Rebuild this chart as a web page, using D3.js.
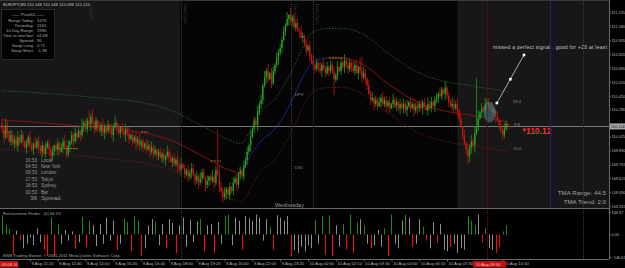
<!DOCTYPE html>
<html>
<head>
<meta charset="utf-8">
<script src="https://cdn.jsdelivr.net/npm/d3@7"></script>
<style>
html, body { margin: 0; padding: 0; background: #000; }
svg { display: block; }
text { font-family: "Liberation Sans", Arial, sans-serif; }
</style>
</head>
<body>
<script>
'use strict';

// ---- data (prices in pips above 110.00) ----
var firstOpen = 16;
var closes = [
  10, 2, 14, 6, -2, 4, -4, 0, -6, 2,
  -3, 4, -2, -8, -4, 2, -6, -10, -4, -8,
  -2, -8, -12, -6, -14, -8, -4, -10, -16, -12,
  -6, -10, -4, -12, -8, -2, -8, -14, -6, -2,
  4, -2, 6, 2, 8, 4, 12, 16, 10, 18,
  14, 22, 16, 10, 18, 12, 8, 14, 6, 12,
  8, 14, 10, 4, 12, 16, 10, 6, 12, 8,
  4, 10, 6, 0, 4, -2, 2, -4, 0, -6,
  -2, -8, -4, -10, -6, -12, -8, -14, -10, -16,
  -12, -18, -14, -20, -16, -12, -18, -22, -18, -24,
  -20, -26, -30, -24, -28, -34, -30, -36, -32, -28,
  -34, -40, -36, -42, -38, -32, -38, -44, -40, -36,
  -40, -36, -42, -30, -34, -46, -50, -56, -52, -48,
  -54, -46, -50, -42, -38, -44, -34, -30, -36, -26,
  -20, -12, -6, 2, 10, 18, 14, 26, 34, 38,
  52, 60, 66, 58, 64, 54, 66, 72, 78, 84,
  88, 96, 104, 110, 116, 120, 114, 118, 108, 112,
  106, 104, 98, 100, 92, 86, 90, 80, 76, 72,
  68, 74, 70, 66, 72, 68, 64, 70, 66, 72,
  66, 58, 62, 70, 66, 74, 70, 76, 72, 68,
  74, 70, 66, 72, 64, 70, 66, 60, 64, 58,
  52, 44, 38, 40, 34, 38, 32, 36, 40, 34,
  38, 32, 36, 30, 34, 38, 32, 36, 30, 34,
  30, 34, 28, 32, 36, 30, 34, 28, 32, 30,
  34, 30, 36, 32, 28, 34, 30, 36, 32, 38,
  40, 44, 42, 48, 44, 50, 42, 36, 32, 34,
  30, 34, 28, 20, 12, 4, -4, -10, -16, -8,
  -2, -6, 6, 12, 20, 26, 30, 28, 34, 36,
  32, 30, 26, 28, 22, 18, 14, 8, 4, 10,
  15, 12.4
];
var wickUp = ('4263152436' + '2531426315' + '3624153426' + '1352436251' + '4263518243' +
  '6372415263' + '2415362514' + '3526142536' + '2314526341' + '3425163524' +
  '2536142635' + '4152634251' + '3624195362' + '2415362415' + '3526143625' +
  '2637154263' + '4352617243' + '5263142536' + '2415263514' + '3526142635' +
  '4263518264' + '2536142536' + '3425163425' + '2536142635' + '3524163524' +
  '4263152436' + '5362415263' + '6372815263' + '4263152436' + '30').split('').map(Number);
var wickDn = ('3625142536' + '4152634251' + '2536241635' + '4263152436' + '3524163524' +
  '2615342536' + '4253614253' + '2635142635' + '3524163524' + '4152634152' +
  '3625142536' + '2536241635' + '4263152436' + '3524163524' + '2536142635' +
  '4263152436' + '3524163524' + '2615342536' + '4253614253' + '2635142635' +
  '3524163524' + '4152634152' + '3625142536' + '2536241635' + '4263152436' +
  '3524163524' + '5263142536' + '6372415263' + '4253614253' + '23').split('').map(Number);
var highSpikes = [[50, 28], [124, 9], [164, 123], [207, 80], [255, 56], [273, 59]];
var lowSpikes = [[127, -61], [191, 43], [268, -24]];

// TMA centre line (bar, pips) and its bands
var tmaFall1 = [[0, 18.7], [56, 11], [82, 6], [94, 1], [114, -15], [131, -30], [137, -33]];
var tmaRise = [[137, -33], [148, -3.6], [158, 12], [167, 38], [173, 60], [179, 74.7], [187, 78.5]];
var tmaFall2 = [[187, 78.5], [196, 78.5], [206, 73.7], [223, 52.5], [240, 35], [252, 28.3], [269, 23.5], [291, 16.8]];
var bandUpper = [[0, 47], [56, 40], [82, 35], [94, 30], [114, 14], [131, -1], [137, -4], [148, 25], [158, 41],
  [167, 67], [173, 89], [179, 104], [187, 107], [196, 107], [206, 103], [223, 82], [240, 64], [252, 57], [269, 52], [291, 46]];
var bandLower = [[0, -10], [56, -18], [82, -23], [94, -28], [114, -44], [131, -57], [137, -60], [148, -33], [158, -17],
  [167, 9], [173, 31], [179, 46], [187, 50], [196, 50], [206, 45], [223, 24], [240, 6], [252, -1], [269, -6], [291, -12]];
var pivotMarks = [[0, 6, 7], [32, 44, -9], [80, 84, 7], [120, 126, -21], [188, 196, 78.5]];

// Retracement Finder histogram, one value every second bar
var histVals = [125, 60, 35, -130, 25, -40, -90, -60, -20, -70, 40, -50, -100, -140, 110, -145, 70, -60, 30, -40,
  20, -95, -50, 115, -80, 90, 60, -75, 70, -60, 110, -40, 90, -100, -60, 105, 80, -110, 120, 90,
  -140, -90, 60, 100, 85, -70, 70, -90, 100, 75, -120, 60, 110, -80, 95, -50, 85, 100, -110, 60,
  70, -120, 80, -60, 120, 130, -70, 110, 90, -100, 120, 105, 90, 130, 110, -40, 100, 50, -100, 125,
  110, 90, 120, -145, -100, -120, -80, -110, -70, -90, 95, -60, 120, -130, 125, -140, 60, -80, 70, -100,
  130, -120, 80, 100, 60, -60, -90, -70, 30, -80, 40, -140, 130, -60, -90, 90, 130, 110, -80, -60,
  100, 50, -40, -90, 80, -50, 70, -100, -110, -80, -60, -120, -90, -100, 120, 90, 60, 130, -50, 45,
  -90, -100, -120, -80, 20, 60];
var histColors = ('gggrnrnnnn' + 'nnrrgrgnnn' + 'nrngrgnnnn' + 'nnnrnggrgg' + 'rnnngnnrnn' +
  'rnnnnnngrn' + 'nrnnggnnnr' + 'nnnnnnngrn' + 'nnnrnnnnnn' + 'gngrgrnngr' +
  'grgngnrnnn' + 'grgnnngnrn' + 'ngrnnrnnnr' + 'nnnngggnrg' + 'nnrrgg').split('');

// axis labels (110.155 sits under the bid box)
var priceTicks = [111.225, 111.090, 110.955, 110.820, 110.690, 110.555, 110.420, 110.290,
  110.025, 109.890, 109.755, 109.625, 109.490, 109.355];
var histTicks = [146.67, 0, -146.67];
var timeTicks = [[16, '9 Aug 11:20'], [32, '9 Aug 12:40'], [48, '9 Aug 14:00'], [64, '9 Aug 15:20'],
  [80, '9 Aug 16:40'], [96, '9 Aug 18:00'], [112, '9 Aug 19:20'], [128, '9 Aug 20:40'],
  [144, '9 Aug 22:00'], [160, '9 Aug 23:20'], [176, '10 Aug 00:50'], [192, '10 Aug 02:10'],
  [208, '10 Aug 03:30'], [224, '10 Aug 04:50'], [240, '10 Aug 06:10'], [256, '10 Aug 07:30'],
  [288, '10 Aug 10:10']];

var headerText = 'EURJPY,M5  110.148 110.148 110.098 110.124';
var infoTitle = 'Pivot60';
var infoRows = [['Range  Today:', '1476'], ['Yesterday:', '2161'], ['10 Day Range:', '1990'],
  ['Time to next bar:', '01:58'], ['Spread:', '36'], ['Swap  Long:', '0.71'], ['Swap  Short:', '-1.38']];
var sessionRows = [['10:53', 'Local'], ['04:53', 'New York'], ['09:53', 'London'], ['17:53', 'Tokyo'],
  ['18:53', 'Sydney'], ['00:53', 'Bar'], ['36', 'Spread.']];

// ---- layout ----
var W = 625, H = 268;
var axisX = 609, mainBottom = 208, histBottom = 259;
var FS = 4.2;

var xs = d3.scaleLinear().domain([16, 256]).range([30, 447]);
var ys = d3.scaleLinear().domain([109.355, 111.225]).range([206, 12.5]);
var yh = d3.scaleLinear().domain([-146.67, 146.67]).range([257, 212]);
function price(p) { return 110 + p / 100; }

var svg = d3.select('body').append('svg').attr('width', W).attr('height', H);

svg.append('defs').append('clipPath').attr('id', 'clipMain')
  .append('rect').attr('x', 0).attr('y', 0).attr('width', axisX).attr('height', mainBottom);

svg.append('rect').attr('width', W).attr('height', H).attr('fill', '#000');
// session shading
svg.append('rect').attr('x', 0).attr('y', 0).attr('width', axisX).attr('height', mainBottom).attr('fill', '#171717');
svg.append('rect').attr('x', xs(102.5)).attr('y', 0).attr('width', xs(262) - xs(102.5)).attr('height', mainBottom).attr('fill', '#050505');

var main = svg.append('g').attr('clip-path', 'url(#clipMain)');

// vertical marker lines
var vLines = [
  {bar: 103, color: '#3c3c3c', dash: '1,1', bottom: histBottom},
  {bar: 166, color: '#3c3c3c', dash: '1,1', bottom: mainBottom},
  {bar: 179, color: '#3c3c3c', dash: '1,1', bottom: mainBottom},
  {bar: 279, color: '#7a1010', dash: '1,1', bottom: histBottom},
  {bar: 315, color: '#20208c', dash: null, bottom: mainBottom},
  {bar: 334, color: '#3c3c3c', dash: '1,1', bottom: histBottom}
];
svg.selectAll('line.vl').data(vLines).enter().append('line')
  .attr('x1', function (d) { return Math.round(xs(d.bar)) + 0.5; })
  .attr('x2', function (d) { return Math.round(xs(d.bar)) + 0.5; })
  .attr('y1', 0).attr('y2', function (d) { return d.bottom; })
  .attr('stroke', function (d) { return d.color; })
  .attr('stroke-dasharray', function (d) { return d.dash; });

// rotated labels on vertical lines
[[103, 'Daily Open'], [166, 'Day High'], [179, 'Daily Open'], [49, 'Session']].forEach(function (d) {
  svg.append('text').attr('transform', 'translate(' + (xs(d[0]) + 3) + ',4) rotate(90)')
    .attr('font-size', FS).attr('fill', '#3a3a3a').text(d[1]);
});

// price line
main.append('line').attr('x1', 0).attr('x2', axisX).attr('y1', Math.round(ys(price(12.4))) + 0.5)
  .attr('y2', Math.round(ys(price(12.4))) + 0.5).attr('stroke', '#777');

// TMA bands and centre
function lineFor(points) {
  return d3.line().x(function (d) { return xs(d[0]); }).y(function (d) { return ys(price(d[1])); })
    .curve(d3.curveMonotoneX)(points);
}
main.append('path').attr('d', lineFor(bandUpper)).attr('fill', 'none').attr('stroke', '#2f6e2f')
  .attr('stroke-width', 0.8).attr('stroke-dasharray', '1.5,1.5');
main.append('path').attr('d', lineFor(bandLower)).attr('fill', 'none').attr('stroke', '#7a1a1a')
  .attr('stroke-width', 0.8).attr('stroke-dasharray', '1.5,1.5');
main.append('path').attr('d', lineFor(tmaFall1)).attr('fill', 'none').attr('stroke', '#8a1515').attr('stroke-width', 0.9);
main.append('path').attr('d', lineFor(tmaRise)).attr('fill', 'none').attr('stroke', '#1c2a9c').attr('stroke-width', 0.9);
main.append('path').attr('d', lineFor(tmaFall2)).attr('fill', 'none').attr('stroke', '#8a1515').attr('stroke-width', 0.9);

// pivot marks
main.selectAll('line.pv').data(pivotMarks).enter().append('line')
  .attr('x1', function (d) { return xs(d[0]); }).attr('x2', function (d) { return xs(d[1]); })
  .attr('y1', function (d) { return ys(price(d[2])); }).attr('y2', function (d) { return ys(price(d[2])); })
  .attr('stroke', '#c8a020').attr('stroke-width', 0.8).attr('stroke-dasharray', '2,1');

// candles
var hiMap = {}, loMap = {};
highSpikes.forEach(function (d) { hiMap[d[0]] = d[1]; });
lowSpikes.forEach(function (d) { loMap[d[0]] = d[1]; });
var bars = closes.map(function (c, i) {
  var o = i === 0 ? firstOpen : closes[i - 1];
  var hi = hiMap[i] !== undefined ? hiMap[i] : Math.max(o, c) + (wickUp[i] || 0);
  var lo = loMap[i] !== undefined ? loMap[i] : Math.min(o, c) - (wickDn[i] || 0);
  return {i: i, o: o, c: c, h: hi, l: lo};
});
var cg = main.selectAll('g.candle').data(bars).enter().append('g');
cg.append('line')
  .attr('x1', function (d) { return xs(d.i); }).attr('x2', function (d) { return xs(d.i); })
  .attr('y1', function (d) { return ys(price(d.h)); }).attr('y2', function (d) { return ys(price(d.l)); })
  .attr('stroke', function (d) { return d.c >= d.o ? '#1f9a1f' : '#c01414'; })
  .attr('stroke-width', 0.8);
cg.append('rect')
  .attr('x', function (d) { return xs(d.i) - 0.65; }).attr('width', 1.3)
  .attr('y', function (d) { return ys(price(Math.max(d.o, d.c))); })
  .attr('height', function (d) { return Math.max(0.8, Math.abs(ys(price(d.o)) - ys(price(d.c)))); })
  .attr('fill', function (d) { return d.c >= d.o ? '#25a825' : '#cc1616'; });

// ellipse and trend arrow
var ell = {i0: 277, i1: 284, hi: 36, lo: 16};
main.append('ellipse').attr('cx', (xs(ell.i0) + xs(ell.i1)) / 2).attr('cy', (ys(price(ell.hi)) + ys(price(ell.lo))) / 2)
  .attr('rx', (xs(ell.i1) - xs(ell.i0)) / 2).attr('ry', (ys(price(ell.lo)) - ys(price(ell.hi))) / 2)
  .attr('fill', '#3f7f8c').attr('fill-opacity', 0.55);
var arrow = [[284.7, 35], [292.5, 58], [300.3, 81.4]];
main.append('line').attr('x1', xs(arrow[0][0])).attr('y1', ys(price(arrow[0][1])))
  .attr('x2', xs(arrow[2][0])).attr('y2', ys(price(arrow[2][1]))).attr('stroke', '#cfcfcf').attr('stroke-width', 0.8);
main.selectAll('rect.h').data(arrow).enter().append('rect')
  .attr('x', function (d) { return xs(d[0]) - 1.3; }).attr('y', function (d) { return ys(price(d[1])) - 1.3; })
  .attr('width', 2.6).attr('height', 2.6).attr('fill', '#fff');

// small level labels
var levelLabels = [[294, 37, '29.4'], [294.5, 14.8, '9.8'], [294, -8.4, '15.0'], [168.5, 43.8, 'DPV'], [168.5, -26.7, 'DS1']];
main.selectAll('text.lv').data(levelLabels).enter().append('text')
  .attr('x', function (d) { return xs(d[0]); }).attr('y', function (d) { return ys(price(d[1])) + 2; })
  .attr('font-size', FS).attr('fill', '#8a8a8a').text(function (d) { return d[2]; });
main.append('text').attr('x', xs(299.5)).attr('y', ys(price(8)) + 3).attr('font-size', 8.5)
  .attr('font-weight', 'bold').attr('fill', '#ff2a2a').text('*110.12');
main.append('text').attr('x', 493).attr('y', 49).attr('font-size', 4.9).attr('fill', '#c8c8c8')
  .attr('textLength', 114).text('missed a perfect signal . good for +20 at least');
main.append('text').attr('x', 606).attr('y', 195).attr('text-anchor', 'end').attr('font-size', 6.2)
  .attr('fill', '#a0a0a0').text('TMA Range: 44.5');
main.append('text').attr('x', 606).attr('y', 204).attr('text-anchor', 'end').attr('font-size', 6.2)
  .attr('fill', '#a0a0a0').text('TMA Trend: 2.0');
main.append('text').attr('x', xs(157)).attr('y', 207).attr('font-size', 5.5).attr('fill', '#9a9a9a').text('Wednesday');

// header and info box
svg.append('text').attr('x', 3).attr('y', 6).attr('font-size', FS).attr('fill', '#c0c0c0').text(headerText);
svg.append('rect').attr('x', 1.5).attr('y', 9.5).attr('width', 53).attr('height', 50)
  .attr('fill', '#020202').attr('stroke', '#2a2a2a');
svg.append('text').attr('x', 28).attr('y', 16).attr('text-anchor', 'middle').attr('font-size', FS)
  .attr('fill', '#a8a8a8').text('\u2014\u2014  ' + infoTitle + '  \u2014\u2014');
infoRows.forEach(function (r, k) {
  svg.append('text').attr('x', 34).attr('y', 21.5 + k * 5.1).attr('text-anchor', 'end')
    .attr('font-size', FS).attr('fill', '#a8a8a8').text(r[0]);
  svg.append('text').attr('x', 37).attr('y', 21.5 + k * 5.1).attr('font-size', FS).attr('fill', '#a8a8a8').text(r[1]);
});
sessionRows.forEach(function (r, k) {
  var big = k === sessionRows.length - 1;
  svg.append('text').attr('x', 37).attr('y', 161.5 + k * 6.4).attr('text-anchor', 'end')
    .attr('font-size', big ? 6 : 4.6).attr('fill', '#9a9a9a').text(r[0]);
  svg.append('text').attr('x', 41).attr('y', 161.5 + k * 6.4)
    .attr('font-size', big ? 6 : 4.6).attr('fill', '#9a9a9a').text(r[1]);
});

// ---- histogram panel ----
svg.append('line').attr('x1', 0).attr('x2', axisX).attr('y1', mainBottom + 0.5).attr('y2', mainBottom + 0.5).attr('stroke', '#6a6a6a');
var colorOf = {g: '#1c8c1c', r: '#ff0a0a', n: '#8e8e8e'};
svg.selectAll('rect.hb').data(histVals).enter().append('rect')
  .attr('x', function (d, k) { return Math.round(xs(2 * k)); })
  .attr('width', 1)
  .attr('y', function (d) { return Math.min(yh(0), yh(d)); })
  .attr('height', function (d) { return Math.abs(yh(d) - yh(0)); })
  .attr('fill', function (d, k) { return colorOf[histColors[k]]; });
svg.append('text').attr('x', 3).attr('y', 215).attr('font-size', FS).attr('fill', '#a0a0a0')
  .text('Retracement Finder - (4) 66.53');
svg.append('text').attr('x', 3).attr('y', 257).attr('font-size', FS).attr('fill', '#a0a0a0')
  .text('MSB Trading Station, \u00a9 2001-2011 MetaQuotes Software Corp.');

// ---- axes ----
svg.append('line').attr('x1', 0).attr('x2', axisX).attr('y1', histBottom + 0.5).attr('y2', histBottom + 0.5).attr('stroke', '#6a6a6a');
svg.append('line').attr('x1', axisX + 0.5).attr('x2', axisX + 0.5).attr('y1', 0).attr('y2', histBottom).attr('stroke', '#6a6a6a');
svg.append('line').attr('x1', 0).attr('x2', axisX).attr('y1', 0.5).attr('y2', 0.5).attr('stroke', '#3a3a3a');

var priceAxis = d3.axisRight(ys).tickValues(priceTicks).tickSize(1.5).tickFormat(d3.format('.3f'));
var pa = svg.append('g').attr('transform', 'translate(' + (axisX + 0.5) + ',0)').call(priceAxis);
var histAxis = d3.axisRight(yh).tickValues(histTicks).tickSize(1.5).tickFormat(d3.format('.2f'));
var ha = svg.append('g').attr('transform', 'translate(' + (axisX + 0.5) + ',0)').call(histAxis);
[pa, ha].forEach(function (g) {
  g.select('.domain').remove();
  g.selectAll('line').attr('stroke', '#6a6a6a');
  g.selectAll('text').attr('x', 2).attr('font-size', 3.9).attr('fill', '#b8b8b8')
    .attr('font-family', '"Liberation Sans", Arial, sans-serif');
});

// bid box
var bidY = ys(price(12.4));
svg.append('rect').attr('x', axisX + 1).attr('y', bidY - 3).attr('width', 16).attr('height', 6).attr('fill', '#a8a8a8');
svg.append('text').attr('x', axisX + 2).attr('y', bidY + 1.5).attr('font-size', 3.9).attr('fill', '#111').text('110.124');

// time axis
var timeAxis = d3.axisBottom(xs).tickValues(timeTicks.map(function (d) { return d[0]; })).tickSize(2)
  .tickFormat(function (v) { return timeTicks.filter(function (d) { return d[0] === v; })[0][1]; });
var ta = svg.append('g').attr('transform', 'translate(0,' + (histBottom + 0.5) + ')').call(timeAxis);
ta.select('.domain').remove();
ta.selectAll('line').attr('stroke', '#6a6a6a');
ta.selectAll('text').attr('text-anchor', 'start').attr('dx', 1).attr('y', 2.5).attr('dy', '0.71em')
  .attr('font-size', FS).attr('fill', '#b8b8b8').attr('font-family', '"Liberation Sans", Arial, sans-serif');

// red time boxes
svg.append('rect').attr('x', 0).attr('y', 261).attr('width', 18).attr('height', 6.5).attr('fill', '#c01010');
svg.append('text').attr('x', 1.5).attr('y', 266).attr('font-size', FS).attr('fill', '#f0d0d0').text('09.08.10');
svg.append('rect').attr('x', xs(271)).attr('y', 261).attr('width', xs(290) - xs(271)).attr('height', 6.5).attr('fill', '#c01010');
svg.append('text').attr('x', xs(272) + 1).attr('y', 266).attr('font-size', FS).attr('fill', '#f0d0d0').text('10 Aug 08:50');
</script>
</body>
</html>
